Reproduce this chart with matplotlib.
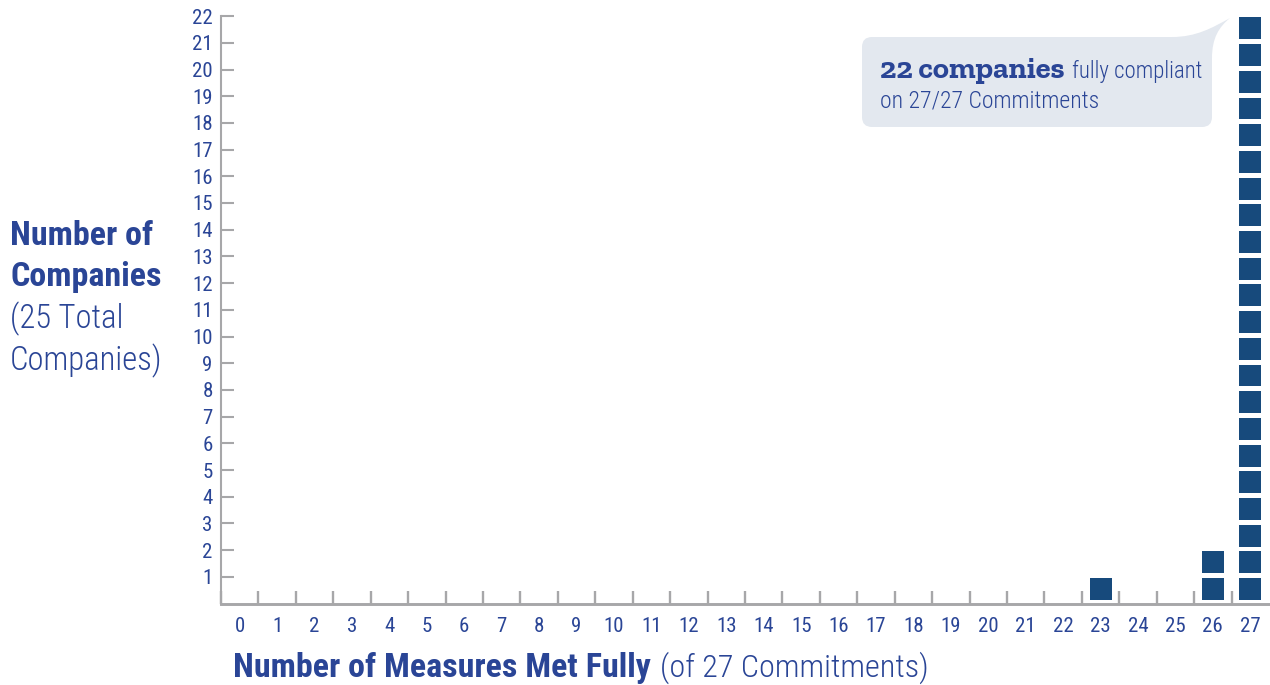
import numpy as np
import matplotlib
matplotlib.use("Agg")
import matplotlib.pyplot as plt
from matplotlib import font_manager
from matplotlib.path import Path
from matplotlib.patches import PathPatch

W, H = 1270, 685

# number of measures met fully (0..27) and how many companies got there
measures = list(range(28))
companies = [0] * 23 + [1, 0, 0, 2, 22]
y_ticks = list(range(1, 23))

BLUE_TXT = "#2a4596"
BLUE_SQ = "#174a7c"
GRAY = "#a7a7a9"
BUBBLE = "#e3e8ef"

names = {f.name for f in font_manager.fontManager.ttflist}


def pick(cands, default):
    for c in cands:
        if c in names:
            return c
    return default


NARROW = pick(["Roboto Condensed", "Liberation Sans Narrow", "Archivo Narrow",
               "PT Sans Narrow"], "Liberation Sans")
# plain fonts are wider, so shrink them a bit
SC = 1.0 if NARROW != "Liberation Sans" else 0.84
SLAB = pick(["Roboto Slab", "Zilla Slab", "Arvo"], "DejaVu Serif")
LIGHT = 300

fig = plt.figure(figsize=(W / 100, H / 100), dpi=100)

# overlay in pixel coords for the free text and the speech bubble
ov = fig.add_axes([0, 0, 1, 1], zorder=0)
ov.set_xlim(0, W)
ov.set_ylim(H, 0)
ov.axis("off")

ax = fig.add_axes([221 / W, (H - 603.5) / H, 1048 / W, 600.75 / H], zorder=1)
ax.patch.set_visible(False)

# stacked squares, one per company
xs, bottoms = [], []
for m, n in zip(measures, companies):
    for k in range(n):
        xs.append(m)
        bottoms.append(k + 0.13)
ax.bar(xs, 0.82, width=0.59, bottom=bottoms, color=BLUE_SQ, linewidth=0)

ax.set_xlim(-0.5, 27.5)
ax.set_ylim(0, 22.5)

ax.set_yticks(y_ticks)
ax.set_yticklabels([str(v) for v in y_ticks])
ax.tick_params(axis="y", direction="in", length=9.4, width=1.5, color=GRAY,
               labelcolor=BLUE_TXT, labelsize=15 * SC, pad=6)

ax.set_xticks(measures)
ax.set_xticklabels([str(v) for v in measures])
ax.set_xticks(np.arange(-0.5, 27, 1), minor=True)
ax.tick_params(axis="x", which="major", length=0, labelcolor=BLUE_TXT,
               labelsize=15 * SC, pad=10)
ax.tick_params(axis="x", which="minor", direction="in", length=9.4, width=1.7,
               color=GRAY)
for lab in ax.get_xticklabels() + ax.get_yticklabels():
    lab.set_family(NARROW)

for s in ["top", "right"]:
    ax.spines[s].set_visible(False)
ax.spines["left"].set_bounds(0, 22)
ax.spines["left"].set_color(GRAY)
ax.spines["left"].set_linewidth(1.5)
ax.spines["bottom"].set_color(GRAY)
ax.spines["bottom"].set_linewidth(2.1)

# y label, four lines
ylab = [("Number of", "bold", 24.5, 245), ("Companies", "bold", 24.5, 286),
        ("(25 Total", LIGHT, 23.5, 328), ("Companies)", LIGHT, 23.5, 370)]
for txt, wt, sz, yb in ylab:
    ov.text(10, yb, txt, family=NARROW, weight=wt, fontsize=sz * SC,
            color=BLUE_TXT, va="baseline", ha="left")

# speech bubble
verts = [
    (872, 37), (1172, 37),
    (1196, 37), (1212, 28), (1230, 18),
    (1219, 27), (1212, 38), (1212, 58),
    (1212, 117),
    (1212, 127), (1202, 127),
    (872, 127),
    (862, 127), (862, 117),
    (862, 47),
    (862, 37), (872, 37),
]
codes = [Path.MOVETO, Path.LINETO,
         Path.CURVE4, Path.CURVE4, Path.CURVE4,
         Path.CURVE4, Path.CURVE4, Path.CURVE4,
         Path.LINETO,
         Path.CURVE3, Path.CURVE3,
         Path.LINETO,
         Path.CURVE3, Path.CURVE3,
         Path.LINETO,
         Path.CURVE3, Path.CURVE3]
ov.add_patch(PathPatch(Path(verts, codes), facecolor=BUBBLE, edgecolor="none"))

t1 = ov.text(880, 78, "22 companies", family=SLAB, weight="bold", fontsize=22,
             color=BLUE_TXT, va="baseline", ha="left")
ov.text(880, 107, "on 27/27 Commitments", family=NARROW, weight=LIGHT,
        fontsize=17 * SC, color=BLUE_TXT, va="baseline", ha="left")

# x label, bold part then regular part
t2 = ov.text(233, 677, "Number of Measures Met Fully", family=NARROW,
             weight="bold", fontsize=24.5 * SC, color=BLUE_TXT, va="baseline",
             ha="left")

fig.canvas.draw()
r = fig.canvas.get_renderer()
inv = ov.transData.inverted()
e1 = t1.get_window_extent(r)
x1 = inv.transform((e1.x1, e1.y0))[0]
ov.text(x1 + 7, 78, "fully compliant", family=NARROW, weight=LIGHT,
        fontsize=16.5 * SC, color=BLUE_TXT, va="baseline", ha="left")
e2 = t2.get_window_extent(r)
x2 = inv.transform((e2.x1, e2.y0))[0]
ov.text(x2 + 9, 677, "(of 27 Commitments)", family=NARROW, weight=LIGHT,
        fontsize=23.2 * SC, color=BLUE_TXT, va="baseline", ha="left")

fig.savefig("out.png", dpi=100)
